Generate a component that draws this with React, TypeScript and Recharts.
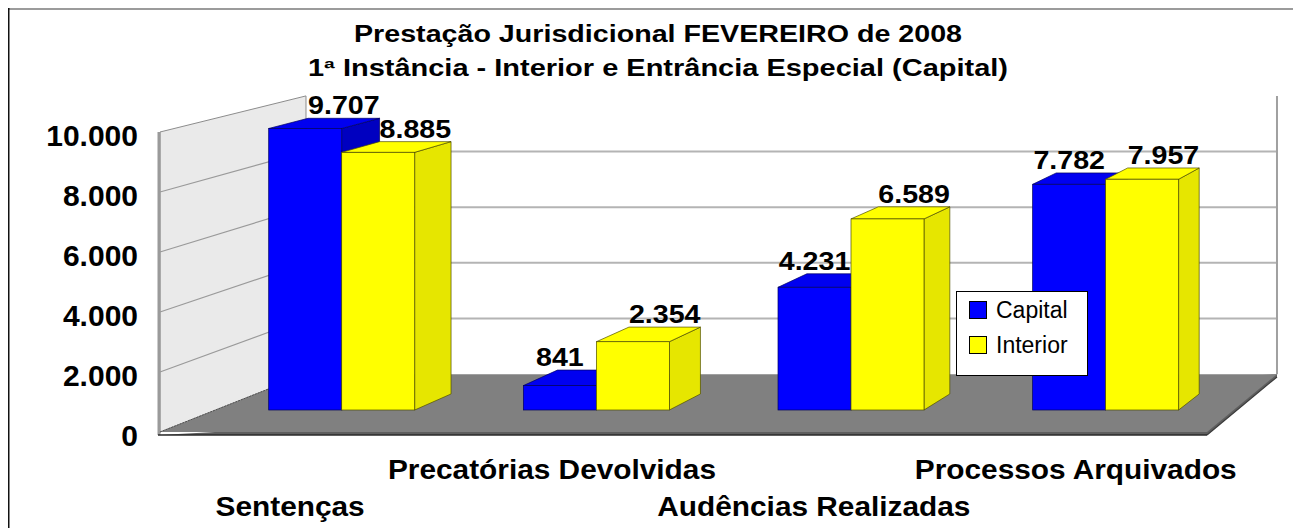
import React from 'react';
import { BarChart, Bar, XAxis, YAxis, Legend, LabelList, Customized } from 'recharts';

// ---------- data ----------
const categories = ['Sentenças', 'Precatórias Devolvidas', 'Audências Realizadas', 'Processos Arquivados'];
const capital = [9707, 841, 4231, 7782];
const interior = [8885, 2354, 6589, 7957];
const yTicks = [0, 2000, 4000, 6000, 8000, 10000];
const gridValues = [2000, 4000, 6000, 8000];
const seriesNames = ['Capital', 'Interior'];
const titleLines = ['Prestação Jurisdicional FEVEREIRO de 2008', '1ª Instância - Interior e Entrância Especial (Capital)'];

const data = categories.map((c, i) => ({ name: c, capital: capital[i], interior: interior[i] }));

// ---------- layout / style ----------
const W = 1293;
const H = 520;
const MARGIN = { top: 64, right: 67.7, bottom: 0, left: 0 };
const Y_AXIS_W = 206.7;
const Y_LABEL_RIGHT = 130;
const X_AXIS_H = 96;
const PLOT_TOP = MARGIN.top;
const PLOT_BOTTOM = H - MARGIN.bottom - X_AXIS_H;
const PLOT_H = PLOT_BOTTOM - PLOT_TOP;
const FRONT_MAX = 12000;
const BAR_BASE_PX = 22;
const BAR_PPU = 0.029;
const BAR_DOMAIN = [-BAR_BASE_PX / BAR_PPU, (PLOT_H - BAR_BASE_PX) / BAR_PPU];
const VP = { x: 2163, y: -373 };
const BAR_DEPTH = 0.0207;
const WALL_BACK = 0.9274;
const LABEL_SHIFT = 0.0284;
const WALL_LEFT = 152;
const WALL_RIGHT = 1199;
const FONT = '"Liberation Sans", Arial, Helvetica, sans-serif';

const COLORS = {
  capital: { front: '#0000FF', top: '#0000F0', side: '#0000C0', stroke: '#000060' },
  interior: { front: '#FFFF00', top: '#FFFF00', side: '#E6E600', stroke: '#4d4d00' },
};

const fmt = (v: number) => String(Math.round(v)).replace(/\B(?=(\d{3})+(?!\d))/g, '.');

const toBack = (px: number, py: number, t: number) => [px + t * (VP.x - px), py + t * (VP.y - py)];
const proj = (px: number, py: number, m: number) => [VP.x + m * (px - VP.x), VP.y + m * (py - VP.y)];
const frontY = (v: number) => PLOT_BOTTOM - (v * PLOT_H) / FRONT_MAX;

const pts = (arr: number[][]) => arr.map((p) => `${p[0]},${p[1]}`).join(' ');

const Backdrop = () => {
  const topV = yTicks[yTicks.length - 1];
  const fl = [WALL_LEFT, frontY(0)];
  const fr = [WALL_RIGHT, frontY(0)];
  const bl = proj(fl[0], fl[1], WALL_BACK);
  const br = proj(fr[0], fr[1], WALL_BACK);
  const tl = [WALL_LEFT, frontY(topV)];
  const btl = proj(tl[0], tl[1], WALL_BACK);
  const btr = proj(WALL_RIGHT, frontY(topV), WALL_BACK);
  const slab = 3;
  const br2 = proj(fr[0], fr[1] + slab, WALL_BACK);
  return (
    <g>
      {/* frame */}
      <line x1={0} y1={1} x2={W} y2={1} stroke="#7a7a7a" strokeWidth={1.5} />
      <line x1={0.75} y1={0} x2={0.75} y2={H} stroke="#111" strokeWidth={1.5} />
      {/* back wall gridlines */}
      {gridValues.map((v) => {
        const a = proj(WALL_LEFT, frontY(v), WALL_BACK);
        const b = proj(WALL_RIGHT, frontY(v), WALL_BACK);
        return <line key={`bg${v}`} x1={a[0]} y1={a[1]} x2={b[0]} y2={b[1]} stroke="#b4b4b4" strokeWidth={2} />;
      })}
      {/* right edge of back wall */}
      <line x1={btr[0]} y1={btr[1]} x2={br[0]} y2={br[1]} stroke="#a0a0a0" strokeWidth={2} />
      {/* left wall */}
      <polygon points={pts([tl, btl, bl, fl])} fill="#eaeaea" stroke="#8c8c8c" strokeWidth={1} />
      {gridValues.map((v) => {
        const b = proj(WALL_LEFT, frontY(v), WALL_BACK);
        return <line key={`lg${v}`} x1={WALL_LEFT} y1={frontY(v)} x2={b[0]} y2={b[1]} stroke="#9a9a9a" strokeWidth={1.2} />;
      })}
      <line x1={WALL_LEFT - 1} y1={tl[1]} x2={WALL_LEFT - 1} y2={fl[1] + slab} stroke="#9a9a9a" strokeWidth={3} />
      {/* floor */}
      <polygon points={pts([[fl[0], fl[1] + slab], [fr[0], fr[1] + slab], br2, br])} fill="#5e5e5e" />
      <polygon points={pts([fl, fr, br, bl])} fill="#808080" />
      <line x1={fl[0] - 2} y1={fl[1] + slab} x2={fr[0]} y2={fr[1] + slab} stroke="#2a2a2a" strokeWidth={1.5} />
      <line x1={fr[0]} y1={fr[1] + slab} x2={br2[0]} y2={br2[1]} stroke="#3a3a3a" strokeWidth={1.2} />
      <line x1={fl[0]} y1={fl[1]} x2={bl[0]} y2={bl[1]} stroke="#505050" strokeWidth={1} strokeDasharray="2 1" />
      {/* title */}
      <text x={(W + 7) / 2} y={33.7} textAnchor="middle" fontFamily={FONT} fontWeight="bold" fontSize={23}
        textLength={608} lengthAdjust="spacingAndGlyphs">{titleLines[0]}</text>
      <text x={(W + 7) / 2} y={67.7} textAnchor="middle" fontFamily={FONT} fontWeight="bold" fontSize={23}
        textLength={700} lengthAdjust="spacingAndGlyphs">{titleLines[1]}</text>
    </g>
  );
};

const makeShape = (c: { front: string; top: string; side: string; stroke: string }) => (props: any) => {
  const { x, y, width: w, height: h } = props;
  if (x == null || y == null || !w || h == null) return <g />;
  const b1 = toBack(x, y, BAR_DEPTH);
  const b2 = toBack(x + w, y, BAR_DEPTH);
  const b3 = toBack(x + w, y + h, BAR_DEPTH);
  return (
    <g>
      <polygon points={pts([[x + w, y], b2, b3, [x + w, y + h]])} fill={c.side} stroke={c.stroke} strokeWidth={0.7} />
      <polygon points={pts([[x, y], [x + w, y], b2, b1])} fill={c.top} stroke={c.stroke} strokeWidth={0.7} />
      <rect x={x} y={y} width={w} height={h} fill={c.front} stroke={c.stroke} strokeWidth={0.7} />
    </g>
  );
};

const makeLabel = (seriesIdx: number) => (p: any) => {
  const vb = p.viewBox || p;
  const x = vb.x ?? p.x;
  const y = vb.y ?? p.y;
  const w = vb.width ?? p.width;
  const i = p.index;
  if (x == null || y == null || w == null) return null;
  const useBack = seriesIdx === 1 || capital[i] > interior[i];
  const cx0 = x + w / 2;
  const bk = toBack(cx0, y, BAR_DEPTH);
  const cx = useBack ? bk[0] : cx0;
  return (
    <text transform={`translate(${cx},${bk[1] - 4}) scale(1.1,1)`} textAnchor="middle" fontFamily={FONT}
      fontWeight="bold" fontSize={26} fill="#000">{fmt(Number(p.value))}</text>
  );
};

const YTick = (props: any) => {
  const { y, payload } = props;
  return (
    <text x={Y_LABEL_RIGHT} y={y + 13.5} textAnchor="end" fontFamily={FONT} fontWeight="bold" fontSize={30} fill="#000">
      {fmt(payload.value)}
    </text>
  );
};

const XTick = (props: any) => {
  const { x, y, payload, index } = props;
  const cx = x + LABEL_SHIFT * (x - VP.x);
  const by = y + (index % 2 === 0 ? 84 : 47);
  return (
    <text transform={`translate(${cx},${by}) scale(1.065,1)`} textAnchor="middle" fontFamily={FONT}
      fontWeight="bold" fontSize={28} fill="#000">{payload.value}</text>
  );
};

const LegendBox = (props: any) => {
  const payload = props.payload || [];
  return (
    <div style={{ width: 130, height: 83, border: '1px solid #000', background: '#fff', position: 'relative', fontFamily: FONT }}>
      {payload.map((e: any, k: number) => (
        <div key={k}>
          <div style={{ position: 'absolute', left: 12, top: 9 + k * 35, width: 16, height: 16, background: e.color, border: '1px solid #000' }} />
          <div style={{ position: 'absolute', left: 39, top: 9 + k * 35 - 4, fontSize: 23, lineHeight: '26px', color: '#000', whiteSpace: 'nowrap' }}>{e.value}</div>
        </div>
      ))}
    </div>
  );
};

export default function App() {
  return (
    <div style={{ width: W, height: H }}>
      <BarChart width={W} height={H} data={data} margin={MARGIN} barSize={73} barGap={0}>
        <Customized component={Backdrop} />
        <XAxis dataKey="name" type="category" interval={0} height={X_AXIS_H} tickSize={0} tickMargin={0}
          axisLine={false} tickLine={false} tick={<XTick />} />
        <YAxis yAxisId="front" type="number" domain={[0, FRONT_MAX]} ticks={yTicks} allowDataOverflow
          width={Y_AXIS_W} tickSize={0} tickMargin={0} axisLine={false} tickLine={false} tick={<YTick />} />
        <YAxis yAxisId="bar" type="number" domain={BAR_DOMAIN} allowDataOverflow hide />
        <Legend layout="vertical" align="center" verticalAlign="middle" content={<LegendBox />}
          wrapperStyle={{ position: 'absolute', left: 948, top: 283, width: 132, height: 85 }} />
        <Bar yAxisId="bar" dataKey="capital" name={seriesNames[0]} fill={COLORS.capital.front}
          isAnimationActive={false} shape={makeShape(COLORS.capital)}>
          <LabelList dataKey="capital" content={makeLabel(0)} />
        </Bar>
        <Bar yAxisId="bar" dataKey="interior" name={seriesNames[1]} fill={COLORS.interior.front}
          isAnimationActive={false} shape={makeShape(COLORS.interior)}>
          <LabelList dataKey="interior" content={makeLabel(1)} />
        </Bar>
      </BarChart>
    </div>
  );
}
